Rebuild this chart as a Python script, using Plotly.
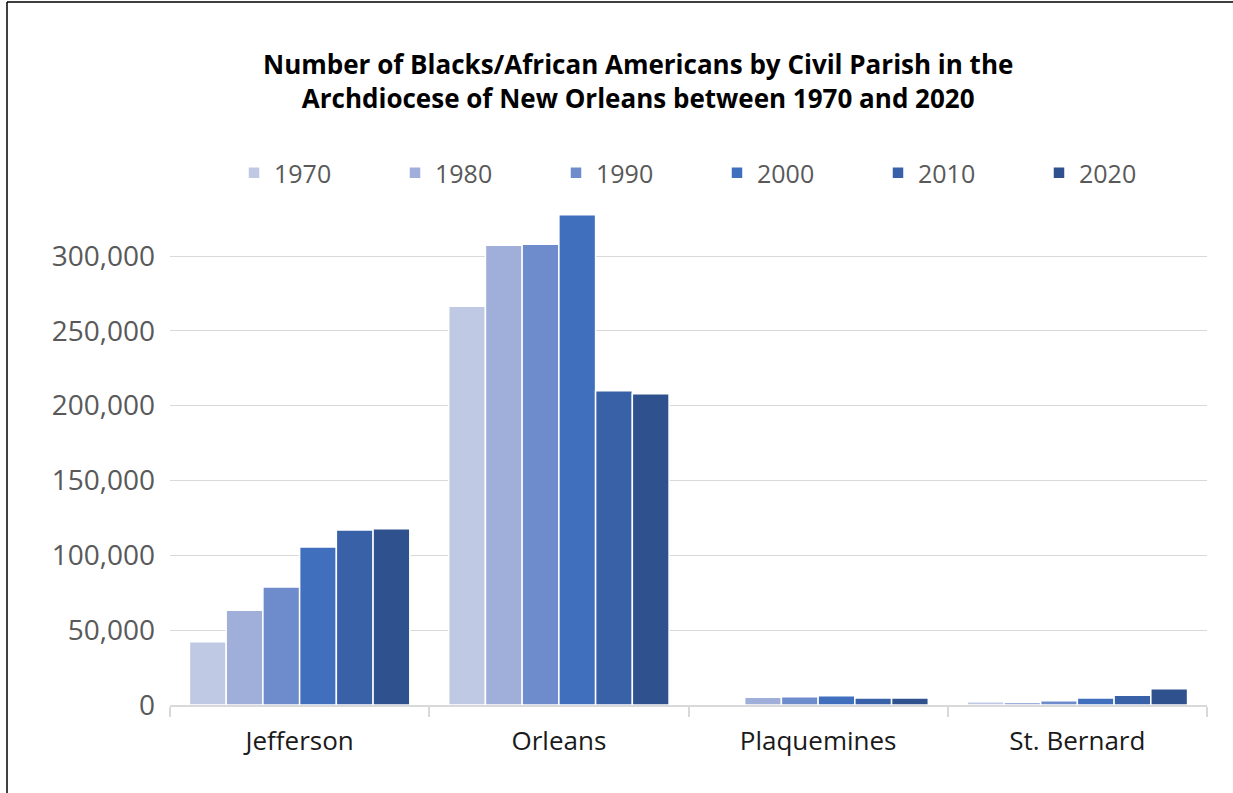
import plotly.graph_objects as go

parishes = ["Jefferson", "Orleans", "Plaquemines", "St. Bernard"]
years = ["1970", "1980", "1990", "2000", "2010", "2020"]
values = {
    "1970": [42300, 266500, None, 2200],
    "1980": [63300, 307100, 5100, 1800],
    "1990": [78800, 307800, 5500, 2900],
    "2000": [105500, 327500, 6200, 4700],
    "2010": [116900, 210000, 4700, 6500],
    "2020": [117800, 208000, 4700, 10900],
}
colors = ["#bfc9e3", "#a0afd9", "#6e8bcb", "#3f6fbd", "#3961a8", "#2f528f"]
ytick_vals = [0, 50000, 100000, 150000, 200000, 250000, 300000]

W, H = 1233, 793
L, R, T, B = 170, 1207, 204, 705
ymax = (B - T) * 300000 / (705 - 256)

font_fam = "'Open Sans', 'Noto Sans', sans-serif"

fig = go.Figure()
for y, c in zip(years, colors):
    fig.add_trace(go.Bar(
        x=parishes, y=values[y], name=y,
        marker=dict(color=c, line=dict(color="white", width=1.5)),
    ))

def px(x):
    return (x - L) / (R - L)

def py(y):
    return (B - y) / (B - T)

fig.update_layout(
    width=W, height=H,
    margin=dict(l=L, r=W - R, t=T, b=H - B, pad=0, autoexpand=False),
    paper_bgcolor="white", plot_bgcolor="white",
    barmode="group", bargap=0.15, bargroupgap=0.0,
    font=dict(family=font_fam, color="#595959"),
    showlegend=True,
    legend=dict(
        orientation="h", x=px(234), y=py(173), xanchor="left", yanchor="middle",
        font=dict(size=25, color="#595959"),
        entrywidth=116, entrywidthmode="pixels",
        traceorder="normal", bgcolor="rgba(0,0,0,0)",
    ),
    annotations=[dict(
        text="<b>Number of Blacks/African Americans by Civil Parish in the<br>Archdiocese of New Orleans between 1970 and 2020</b>",
        x=px(638), y=py(81), xref="paper", yref="paper",
        xanchor="center", yanchor="middle", showarrow=False,
        font=dict(size=26, color="#000000", family=font_fam),
        align="center",
    )],
    shapes=[
        dict(type="line", xref="paper", yref="paper", x0=px(7), x1=px(1240), y0=py(2), y1=py(2),
             line=dict(color="black", width=1.5)),
        dict(type="line", xref="paper", yref="paper", x0=px(7), x1=px(7), y0=py(2), y1=py(800),
             line=dict(color="black", width=1.5)),
    ],
)
fig.update_yaxes(
    range=[0, ymax], tickvals=ytick_vals, tickformat=",",
    showgrid=True, gridcolor="#d9d9d9", gridwidth=1.3,
    zeroline=False, showline=False, ticks="",
    tickfont=dict(size=28, color="#595959"),
    ticklabelstandoff=14,
)
fig.update_xaxes(
    showline=True, linecolor="#d9d9d9", linewidth=1.5,
    ticks="outside", tickson="boundaries", ticklen=10, tickcolor="#d9d9d9", tickwidth=1.5,
    tickfont=dict(size=26, color="#1a1a1a"),
    ticklabelstandoff=12,
)
fig.write_html(
    "out.html",
    config={"displayModeBar": False},
    post_script="document.body.style.margin='0';document.body.style.padding='0';document.body.style.overflow='hidden';",
)
